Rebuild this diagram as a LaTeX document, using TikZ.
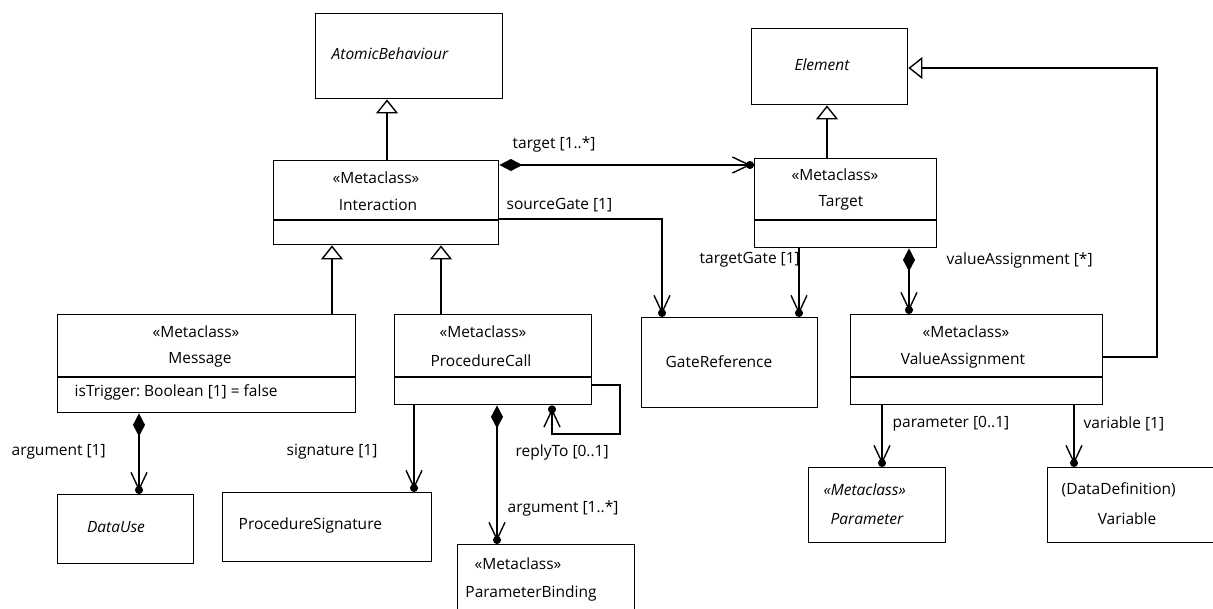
\documentclass[tikz,border=0pt]{standalone}
\usepackage{fontspec}
\setmainfont{Open Sans}
\frenchspacing
\usetikzlibrary{arrows.meta}
\tikzstyle{class box}=[draw, rectangle, inner sep=0pt, anchor=north west]
\tikzstyle{txt}=[inner sep=0pt, font=\fontsize{15.5}{18}\selectfont]
\tikzstyle{txt it}=[inner sep=0pt, font=\fontsize{15.5}{18}\selectfont\itshape]
\tikzstyle{role}=[txt, anchor=west]
\tikzstyle{gen}=[-{Triangle[width=22pt, length=14pt, fill=white]}]
\tikzstyle{nav}=[-{Straight Barb[width=16pt, length=17pt, sep=-5pt] Circle[length=8pt]}]
\tikzstyle{comp}=[{Diamond[width=12pt, length=23pt]}-{Straight Barb[width=16pt, length=17pt, sep=-5pt] Circle[length=8pt]}]

\begin{document}
\begin{tikzpicture}[x=1pt, y=-1pt, line width=1.4pt]
  \useasboundingbox (0,0) rectangle (1213,608);

  % classes
  \node[class box, minimum width=187pt, minimum height=85pt] (atomic) at (315,13) {};
  \node[class box, minimum width=225pt, minimum height=84pt] (inter) at (273,160) {};
  \node[class box, minimum width=156pt, minimum height=76pt] (elem) at (751,28) {};
  \node[class box, minimum width=182pt, minimum height=89pt] (target) at (754,158) {};
  \node[class box, minimum width=298pt, minimum height=98pt] (msg) at (57,314) {};
  \node[class box, minimum width=197pt, minimum height=90pt] (pcall) at (394,314) {};
  \node[class box, minimum width=176pt, minimum height=90pt] (gateref) at (641,317) {};
  \node[class box, minimum width=252pt, minimum height=90pt] (va) at (850,314) {};
  \node[class box, minimum width=136pt, minimum height=69pt] (datause) at (57,494) {};
  \node[class box, minimum width=209pt, minimum height=69pt] (psig) at (222,492) {};
  \node[class box, minimum width=177pt, minimum height=80pt] (pbind) at (457,544) {};
  \node[class box, minimum width=137pt, minimum height=75pt] (param) at (808,467) {};
  \node[class box, minimum width=180pt, minimum height=75pt] (var) at (1047,467) {};

  \foreach \c/\y in {inter/220, target/220, msg/377, pcall/377, va/377}
    \draw (\c.west |- 0,\y) -- (\c.east |- 0,\y);

  % names
  \node[txt it, anchor=west] (atomic-name) at (331,54) {AtomicBehaviour};
  \node[txt] (inter-st) at (376,178) {«Metaclass»};
  \node[txt] (inter-name) at (378,205) {Interaction};
  \node[txt it] (elem-name) at (822,65) {Element};
  \node[txt] (target-st) at (835,175) {«Metaclass»};
  \node[txt] (target-name) at (841,203) {Target};
  \node[txt] (msg-st) at (196,332) {«Metaclass»};
  \node[txt] (msg-name) at (200,360) {Message};
  \node[role] (msg-attr) at (74,392) {isTrigger: Boolean [1] = false};
  \node[txt] (pcall-st) at (483,332) {«Metaclass»};
  \node[txt] (pcall-name) at (481,361) {ProcedureCall};
  \node[txt] (va-st) at (966,332) {«Metaclass»};
  \node[txt] (va-name) at (963,360) {ValueAssignment};
  \node[role] (gateref-name) at (665,362) {GateReference};
  \node[txt it] (datause-name) at (116,527) {DataUse};
  \node[role] (psig-name) at (238,525) {ProcedureSignature};
  \node[txt] (pbind-st) at (518,564) {«Metaclass»};
  \node[txt] (pbind-name) at (531,593) {ParameterBinding};
  \node[txt it, anchor=west] (param-st) at (823,490) {«Metaclass»};
  \node[txt it, anchor=west] (param-name) at (830,519) {Parameter};
  \node[role] (var-st) at (1061,490) {(DataDefinition)};
  \node[txt] (var-name) at (1127,519) {Variable};

  % generalisations
  \draw[gen] (inter.north -| 387,0) -- (atomic.south -| 387,0);
  \draw[gen] (msg.north -| 332,0) -- (inter.south -| 332,0);
  \draw[gen] (pcall.north -| 441,0) -- (inter.south -| 441,0);
  \draw[gen] (target.north -| 827,0) -- (elem.south -| 827,0);
  \draw[gen] (va.east |- 0,357) -| (1157,68) -- (elem.east |- 0,68);

  % associations
  \draw[comp] (inter.east |- 0,165) -- (target.west |- 0,165);
  \draw[nav] (inter.east |- 0,219) -| (gateref.north -| 662,0);
  \draw[nav] (target.south -| 799,0) -- (gateref.north -| 799,0);
  \draw[comp] (target.south -| 909,0) -- (va.north -| 909,0);
  \draw[comp] (msg.south -| 139,0) -- (datause.north -| 139,0);
  \draw[nav] (pcall.south -| 414,0) -- (psig.north -| 414,0);
  \draw[comp] (pcall.south -| 497,0) -- (pbind.north -| 497,0);
  \draw[nav] (pcall.east |- 0,385) -| (620,434) -| (pcall.south -| 552,0);
  \draw[nav] (va.south -| 882,0) -- (param.north -| 882,0);
  \draw[nav] (va.south -| 1074,0) -- (var.north -| 1074,0);

  % role names
  \node[role] (target-role) at (512,144) {target [1..*]};
  \node[role] (source-role) at (506,205) {sourceGate [1]};
  \node[role] (tgate-role) at (699,260) {targetGate [1]};
  \node[role] (va-role) at (946,260) {valueAssignment [*]};
  \node[role] (arg-role) at (11,452) {argument [1]};
  \node[role] (sig-role) at (286,452) {signature [1]};
  \node[role] (reply-role) at (515,452) {replyTo [0..1]};
  \node[role] (args-role) at (507,508) {argument [1..*]};
  \node[role] (param-role) at (892,424) {parameter [0..1]};
  \node[role] (var-role) at (1083,424) {variable [1]};
\end{tikzpicture}
\end{document}
